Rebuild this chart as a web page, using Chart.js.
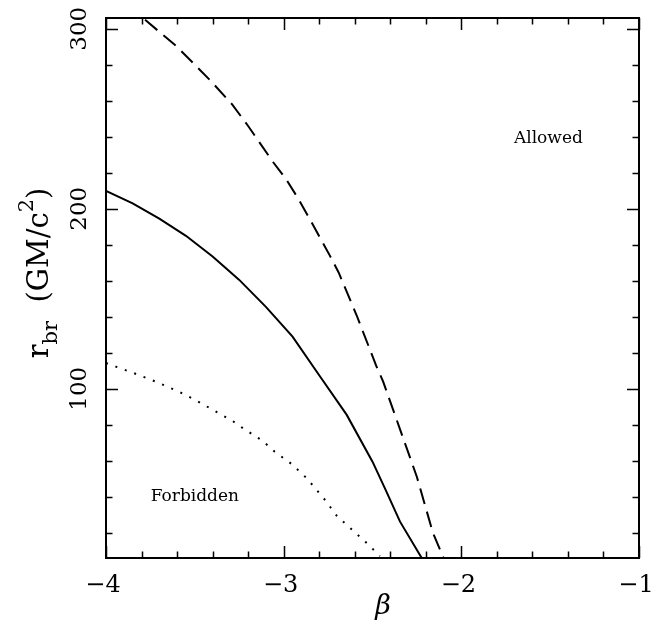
<!DOCTYPE html>
<html>
<head>
<meta charset="utf-8">
<script src="https://cdn.jsdelivr.net/npm/chart.js@4.4.0/dist/chart.umd.min.js"></script>
<style>
  body { margin: 0; background: #fff; }
  canvas { display: block; }
</style>
</head>
<body>
<canvas id="chart" width="655" height="635"></canvas>
<script>
// Curve data (beta, r_br in GM/c^2)
const solidBeta = [-4.0, -3.85, -3.70, -3.55, -3.40, -3.32, -3.25, -3.10, -2.95, -2.80, -2.645, -2.50, -2.43, -2.345, -2.223];
const solidR = [210, 203, 194.5, 185, 173.5, 166.5, 160.5, 145.5, 129, 107.5, 85.5, 59.5, 44.7, 26.2, 6];

const dashedBeta = [-3.78, -3.60, -3.41, -3.29, -3.20, -3.06, -2.99, -2.92, -2.84, -2.74, -2.69, -2.59, -2.48, -2.44, -2.345, -2.25, -2.16, -2.10];
const dashedR = [305, 290, 271, 258, 246, 226, 217, 206, 192, 174, 164.5, 141, 113, 104, 77.5, 51, 20, 6];

const dottedBeta = [-4.0, -3.83, -3.71, -3.59, -3.49, -3.39, -3.29, -3.22, -3.12, -3.05, -2.955, -2.87, -2.77, -2.70, -2.54, -2.458];
const dottedR = [114.3, 108.2, 103.6, 98.4, 93.4, 87.8, 82.3, 77.5, 71.2, 65, 58.2, 50.3, 38.6, 29.3, 15, 7.1];

// Axis ticks and labels
const xMajorTicks = [-4, -3, -2, -1];
const xTickLabels = ['\u22124', '\u22123', '\u22122', '\u22121'];
const yMajorTicks = [100, 200, 300];
const yTickLabels = ['100', '200', '300'];

// Region notes placed in data coordinates
const noteText = ['Allowed', 'Forbidden'];
const noteBeta = [-1.51, -3.50];
const noteR = [239, 40];

const toPoints = (xs, ys) => xs.map((x, i) => ({ x: x, y: ys[i] }));

const SERIF = '"DejaVu Serif", "Liberation Serif", serif';

// Draws the frame, inward ticks on all sides, tick labels, titles and notes
const decorations = {
    id: 'decorations',
    afterDraw(chart) {
        const ctx = chart.ctx;
        const area = chart.chartArea;
        const xs = chart.scales.x;
        const ys = chart.scales.y;
        ctx.save();
        ctx.strokeStyle = '#000';
        ctx.fillStyle = '#000';

        // frame
        ctx.lineWidth = 2;
        ctx.strokeRect(area.left, area.top, area.right - area.left, area.bottom - area.top);

        // x ticks (minor every 0.2, major every 1)
        ctx.lineWidth = 1.5;
        for (let i = 0; i <= 15; i++) {
            const v = -4 + i * 0.2;
            const px = Math.round(xs.getPixelForValue(v)) + 0.5;
            const len = (i % 5 === 0) ? 12 : 6.5;
            ctx.beginPath();
            ctx.moveTo(px, area.bottom);
            ctx.lineTo(px, area.bottom - len);
            ctx.moveTo(px, area.top);
            ctx.lineTo(px, area.top + len);
            ctx.stroke();
        }
        // y ticks (minor every 20, major every 100)
        for (let v = 20; v <= 300; v += 20) {
            const py = Math.round(ys.getPixelForValue(v)) + 0.5;
            const len = (v % 100 === 0) ? 12 : 6.5;
            ctx.beginPath();
            ctx.moveTo(area.left, py);
            ctx.lineTo(area.left + len, py);
            ctx.moveTo(area.right, py);
            ctx.lineTo(area.right - len, py);
            ctx.stroke();
        }

        // x tick labels
        ctx.font = '24px ' + SERIF;
        ctx.textAlign = 'center';
        ctx.textBaseline = 'middle';
        xMajorTicks.forEach((v, i) => {
            ctx.fillText(xTickLabels[i], xs.getPixelForValue(v) - 3, area.bottom + 28);
        });

        // y tick labels, rotated
        ctx.font = '23px ' + SERIF;
        yMajorTicks.forEach((v, i) => {
            ctx.save();
            ctx.translate(area.left - 26, ys.getPixelForValue(v));
            ctx.rotate(-Math.PI / 2);
            ctx.fillText(yTickLabels[i], 0, 0);
            ctx.restore();
        });

        // x title
        ctx.font = 'italic 27px ' + SERIF;
        ctx.textBaseline = 'alphabetic';
        ctx.fillText('\u03b2', 383, 614);

        // y title: r_br (GM/c^2)
        ctx.save();
        ctx.translate(48, 273);
        ctx.rotate(-Math.PI / 2);
        ctx.textAlign = 'left';
        const big = '29px ' + SERIF;
        const small = '21px ' + SERIF;
        const parts = [
            { t: 'r', f: big, dy: 0 },
            { t: 'br', f: small, dy: 9 },
            { t: '  (GM/c', f: big, dy: 0 },
            { t: '2', f: small, dy: -15 },
            { t: ')', f: big, dy: 0 }
        ];
        let total = 0;
        parts.forEach(p => { ctx.font = p.f; p.w = ctx.measureText(p.t).width; total += p.w; });
        let cx = -total / 2;
        parts.forEach(p => {
            ctx.font = p.f;
            ctx.fillText(p.t, cx, p.dy);
            cx += p.w;
        });
        ctx.restore();

        // region notes
        ctx.font = '17px ' + SERIF;
        ctx.textAlign = 'center';
        ctx.textBaseline = 'middle';
        noteText.forEach((t, i) => {
            ctx.fillText(t, xs.getPixelForValue(noteBeta[i]), ys.getPixelForValue(noteR[i]));
        });

        ctx.restore();
    }
};

const ctx = document.getElementById('chart').getContext('2d');
const chart = new Chart(ctx, {
    type: 'line',
    data: {
        datasets: [
            {
                label: 'solid',
                data: toPoints(solidBeta, solidR),
                borderColor: '#000',
                borderWidth: 2,
                pointRadius: 0,
                tension: 0,
                clip: 0
            },
            {
                label: 'dashed',
                data: toPoints(dashedBeta, dashedR),
                borderColor: '#000',
                borderWidth: 2,
                borderDash: [16, 8],
                pointRadius: 0,
                tension: 0,
                clip: 0
            },
            {
                label: 'dotted',
                data: toPoints(dottedBeta, dottedR),
                borderColor: '#000',
                borderWidth: 2,
                borderDash: [2, 8],
                pointRadius: 0,
                tension: 0,
                clip: 0
            }
        ]
    },
    options: {
        responsive: false,
        animation: false,
        events: [],
        layout: { padding: { left: 106, top: 18, right: 16, bottom: 77 } },
        plugins: {
            legend: { display: false },
            tooltip: { enabled: false }
        },
        scales: {
            x: { type: 'linear', min: -4, max: -1, display: false },
            y: { type: 'linear', min: 6, max: 306, display: false }
        }
    },
    plugins: [decorations]
});
</script>
</body>
</html>
